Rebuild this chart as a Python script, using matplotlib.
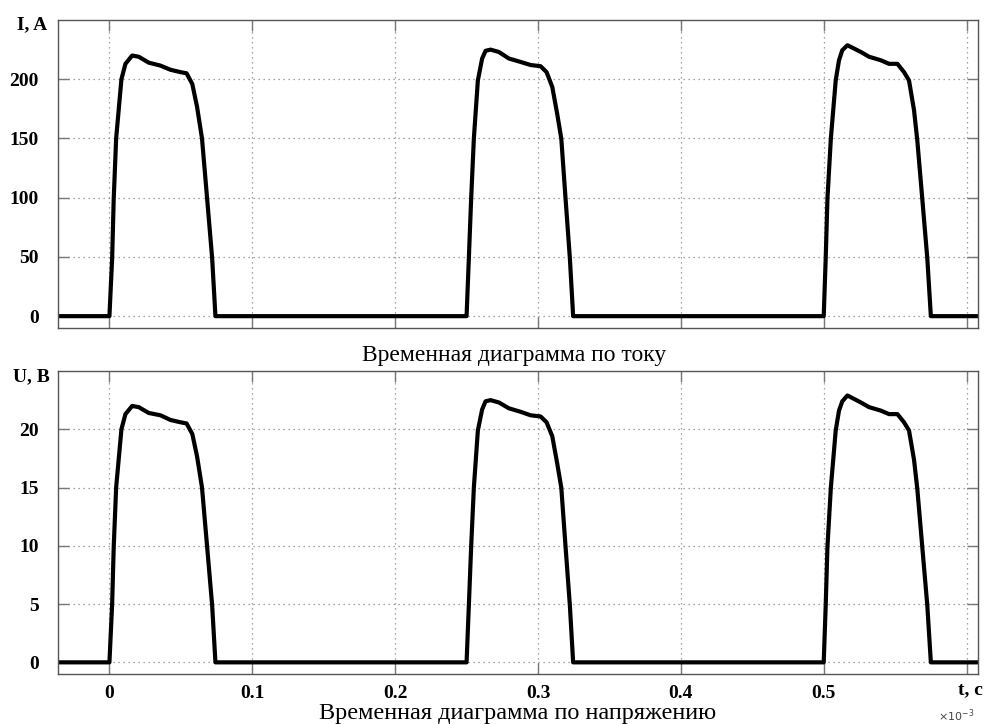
import matplotlib
matplotlib.use("Agg")
import matplotlib.pyplot as plt
from matplotlib.ticker import FixedLocator

plt.rcParams['font.family'] = ['Liberation Serif', 'DejaVu Serif']

# time in units of 1e-3 s
t = [-0.036, 0.0, 0.0019, 0.003, 0.0047, 0.0084, 0.0112, 0.0159, 0.0205, 0.0275, 0.0357,
     0.0427, 0.0497, 0.054, 0.058, 0.0613, 0.0648, 0.0684, 0.0719, 0.0742,
     0.25, 0.2516, 0.2532, 0.2551, 0.2579, 0.2609, 0.2633, 0.2668, 0.2726, 0.2796, 0.2878,
     0.2948, 0.3018, 0.306, 0.31, 0.3134, 0.3163, 0.3193, 0.3223, 0.3246,
     0.5, 0.5014, 0.5026, 0.505, 0.5084, 0.5107, 0.513, 0.5166, 0.526, 0.5317, 0.54,
     0.5457, 0.5516, 0.5562, 0.5597, 0.5632, 0.5655, 0.569, 0.5725, 0.575, 0.61]

current = [0, 0, 49, 99, 150, 200, 213, 220, 219, 214, 211.5, 208, 206, 205, 196, 177, 150, 99, 49, 0,
           0, 49, 99, 150, 199, 217.5, 224, 225, 223, 217.5, 214.6, 212, 211, 206, 193.5, 171, 150, 99, 49, 0,
           0, 49, 99, 150, 199, 216, 224.5, 228.7, 223, 219, 216, 213, 213, 206, 199, 174, 148.5, 99, 49, 0, 0]

voltage = [0, 0, 5.0, 9.9, 15.0, 20.0, 21.3, 22.0, 21.9, 21.4, 21.2, 20.8, 20.6, 20.5, 19.6, 17.7, 15.0, 9.9, 4.9, 0,
           0, 4.9, 9.9, 15.0, 19.9, 21.7, 22.4, 22.5, 22.3, 21.8, 21.5, 21.2, 21.1, 20.6, 19.4, 17.1, 15.0, 9.9, 4.9, 0,
           0, 4.9, 9.9, 15.0, 19.9, 21.6, 22.4, 22.9, 22.3, 21.9, 21.6, 21.3, 21.3, 20.6, 19.9, 17.4, 14.9, 9.9, 4.9, 0, 0]

x_ticks = [0, 0.1, 0.2, 0.3, 0.4, 0.5, 0.6]
x_ticklabels = ['0', '0.1', '0.2', '0.3', '0.4', '0.5', '']
i_ticks = [0, 50, 100, 150, 200]
u_ticks = [0, 5, 10, 15, 20]

W, H = 985, 724
fig = plt.figure(figsize=(W / 100, H / 100), dpi=100)

def fx(px):
    return px / W

def fy(py):
    return 1 - py / H

ax1 = fig.add_axes([fx(58), fy(328), fx(978) - fx(58), fy(20) - fy(328)])
ax2 = fig.add_axes([fx(58), fy(674), fx(978) - fx(58), fy(371) - fy(674)])

spine_col = '#555555'
for ax, y, yt, ylim in [(ax1, current, i_ticks, (-10, 250)), (ax2, voltage, u_ticks, (-1, 25))]:
    ax.plot(t, y, color='black', lw=3.0, solid_joinstyle='round', solid_capstyle='round')
    ax.set_xlim(-0.036, 0.608)
    ax.set_ylim(*ylim)
    ax.xaxis.set_major_locator(FixedLocator(x_ticks))
    ax.yaxis.set_major_locator(FixedLocator(yt))
    ax.grid(True, color='#888888', linestyle=(0, (1, 3)), lw=0.9)
    ax.tick_params(direction='in', length=8, width=1, color='#777777',
                   top=True, right=True, labelsize=14, pad=14)
    for lbl in ax.get_yticklabels():
        lbl.set_fontweight('bold')
    for s in ax.spines.values():
        s.set_color(spine_col)
        s.set_linewidth(1.0)

ax1.set_xticklabels([])
ax2.set_xticklabels(x_ticklabels, fontweight='bold', fontsize=14)
ax2.tick_params(axis='x', pad=8)

fig.text(fx(32), fy(25), 'I, A', ha='center', va='center', fontsize=14, fontweight='bold')
fig.text(fx(31), fy(377), 'U, B', ha='center', va='center', fontsize=14, fontweight='bold')
fig.text(fx(970), fy(690), 't, c', ha='center', va='center', fontsize=14, fontweight='bold')
fig.text(fx(956), fy(716), r'$\times10^{-3}$', ha='center', va='center', fontsize=8, color='#444444')
fig.text(fx(514), fy(356), 'Временная диаграмма по току', ha='center', va='center', fontsize=17)
fig.text(fx(518), fy(713), 'Временная диаграмма по напряжению', ha='center', va='center', fontsize=17.5)

fig.savefig('out.png', dpi=100)
